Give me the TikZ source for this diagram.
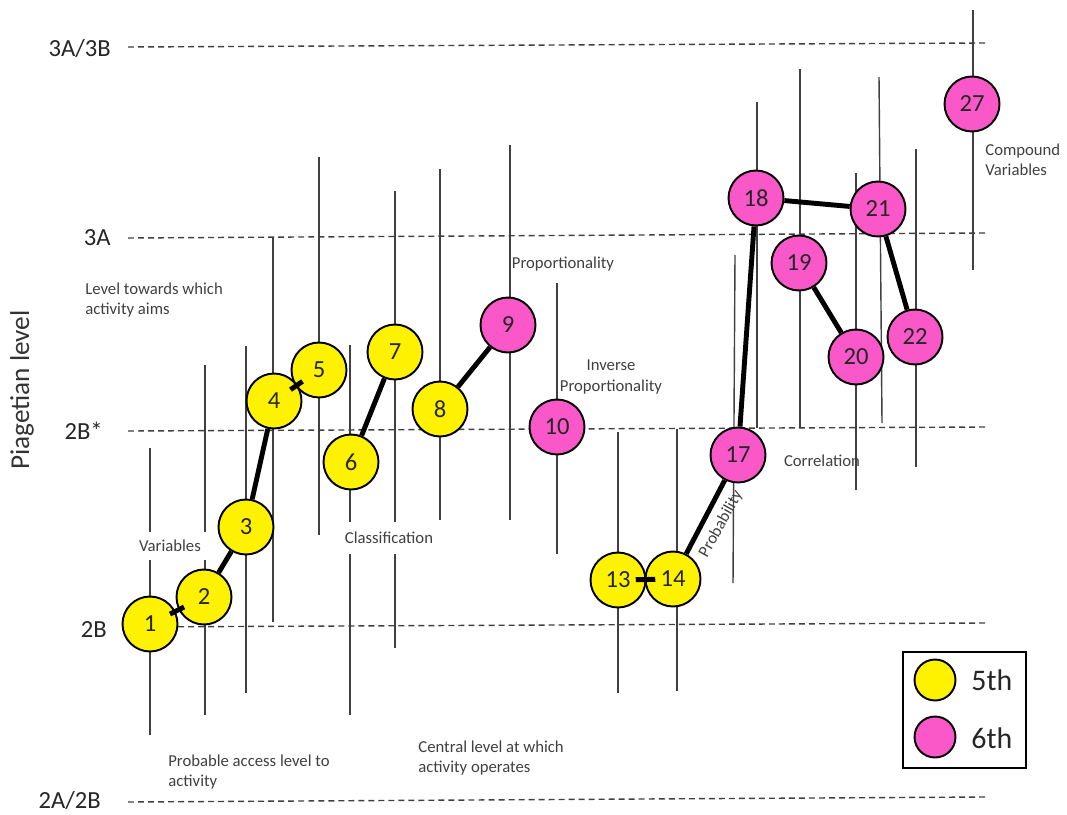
\documentclass[tikz,border=0pt]{standalone}
\usepackage{fontspec}
\setmainfont{Carlito}
\usepackage{tikz}
\definecolor{fifthyellow}{RGB}{255,242,0}
\definecolor{sixthpink}{RGB}{250,88,200}

\begin{document}
\begin{tikzpicture}[x=0.02cm, y=-0.02cm,
  fifth/.style={draw, circle, line width=1.1pt, fill=fifthyellow, inner sep=0pt, minimum size=1.1cm, text=black!85, font=\fontsize{14}{16}\selectfont},
  sixth/.style={fifth, fill=sixthpink},
  rangebar/.style={black!75, line width=0.8pt},
  lvlline/.style={black!75, line width=0.8pt, dash pattern=on 3.4pt off 2.3pt},
  lvllabel/.style={anchor=east, inner sep=0pt, text=black!85, font=\fontsize{14}{16}\selectfont},
  notetext/.style={inner sep=0pt, align=left, text=black!75, font=\fontsize{9.5}{11.5}\selectfont},
  link/.style={line width=2.8pt} ]
      \useasboundingbox (0,0) rectangle (1067,814);
      % levels
      \draw[lvlline] (128,47)--(985,43);
      \draw[lvlline] (128,238)--(985,233);
      \draw[lvlline] (128,431)--(985,427);
      \draw[lvlline] (128,627)--(985,623);
      \draw[lvlline] (128,802)--(985,797);
      \node[lvllabel] (l3a3b) at (111,48) {3A/3B};
      \node[lvllabel] (l3a) at (111,238) {3A};
      \node[lvllabel] (l2bstar) at (103,431) {2B*};
      \node[lvllabel] (l2b) at (107,630) {2B};
      \node[lvllabel] (l2a2b) at (101,800) {2A/2B};
      \node[rotate=90, inner sep=0pt, text=black!80, font=\fontsize{15.5}{18}\selectfont] (ylabel) at (22,390) {Piagetian level};
      % access level to aim level
      \draw[rangebar] (150,448)--(150,735);
      \draw[rangebar] (205,365)--(205,715);
      \draw[rangebar] (246,346)--(246,693);
      \draw[rangebar] (273,238)--(273,622);
      \draw[rangebar] (319,157)--(319,535);
      \draw[rangebar] (350,345)--(350,715);
      \draw[rangebar] (395,191)--(395,648);
      \draw[rangebar] (440,169)--(440,520);
      \draw[rangebar] (510,145)--(510,520);
      \draw[rangebar] (557,283)--(557,554);
      \draw[rangebar] (618,432)--(618,693);
      \draw[rangebar] (677,429)--(677,691);
      \draw[rangebar] (735,255)--(733,583);
      \draw[rangebar] (757,102)--(757,428);
      \draw[rangebar] (800,69)--(800,427);
      \draw[rangebar] (856,173)--(856,490);
      \draw[rangebar] (879,77)--(882,423);
      \draw[rangebar] (916,149)--(916,467);
      \draw[rangebar] (973,10)--(973,270);
      % notes
      \node[notetext, anchor=west] (aims) at (85,300) {Level towards which\\activity aims};
      \node[notetext, anchor=west] (access) at (168,772) {Probable access level to\\activity};
      \node[notetext, anchor=west] (central) at (418,758) {Central level at which\\activity operates};
      \node[notetext, fill=white, inner xsep=3pt, inner ysep=4.5pt] (variables) at (170,546) {Variables};
      \node[notetext, fill=white, inner xsep=3pt, inner ysep=5.5pt] (classification) at (389,538) {Classification};
      \node[notetext] (proportionality) at (563,264) {Proportionality};
      \node[notetext, align=center] (inverse) at (611,377) {Inverse\\Proportionality};
      \node[notetext, rotate=61] (probability) at (721,524) {Probability};
      \node[notetext] (correlation) at (822,461) {Correlation};
      \node[notetext, anchor=west] (compound) at (985,160) {Compound\\Variables};
      % activities
      \node[fifth] (a1) at (150,624) {1};
      \node[fifth] (a2) at (204,597) {2};
      \node[fifth] (a3) at (246,527) {3};
      \node[fifth] (a4) at (274,401) {4};
      \node[fifth] (a5) at (319,370) {5};
      \node[fifth] (a6) at (351,462) {6};
      \node[fifth] (a7) at (395,352) {7};
      \node[fifth] (a8) at (440,409) {8};
      \node[sixth] (a9) at (508,325) {9};
      \node[sixth] (a10) at (557,427) {10};
      \node[fifth] (a13) at (618,580) {13};
      \node[fifth] (a14) at (673,579) {14};
      \node[sixth] (a17) at (738,455) {17};
      \node[sixth] (a18) at (756,198) {18};
      \node[sixth] (a19) at (799,263) {19};
      \node[sixth] (a20) at (856,357) {20};
      \node[sixth] (a21) at (878,209) {21};
      \node[sixth] (a22) at (915,337) {22};
      \node[sixth] (a27) at (972,104) {27};
\draw[link, shorten <=-3.5pt, shorten >=-3.5pt] (a1)--(a2);
\draw[link] (a2)--(a3)--(a4);
\draw[link, shorten <=-3.5pt, shorten >=-3.5pt] (a4)--(a5);
\draw[link] (a6)--(a7);
\draw[link] (a8)--(a9);
\draw[link, shorten <=-5pt, shorten >=-5pt] (a13)--(a14);
\draw[link] (a14)--(a17)--(a18)--(a21)--(a22);
\draw[link] (a19)--(a20);
      % key
      \draw[line width=1.3pt] (903,652) rectangle (1026,768);
      \node[fifth, minimum size=0.82cm] (key5) at (935,680) {};
      \node[sixth, minimum size=0.82cm] (key6) at (935,737) {};
      \node[notetext, anchor=west, text=black!85, font=\fontsize{17}{19}\selectfont] (key5text) at (971,680) {5th};
      \node[notetext, anchor=west, text=black!85, font=\fontsize{17}{19}\selectfont] (key6text) at (971,738) {6th};
\end{tikzpicture}
\end{document}
